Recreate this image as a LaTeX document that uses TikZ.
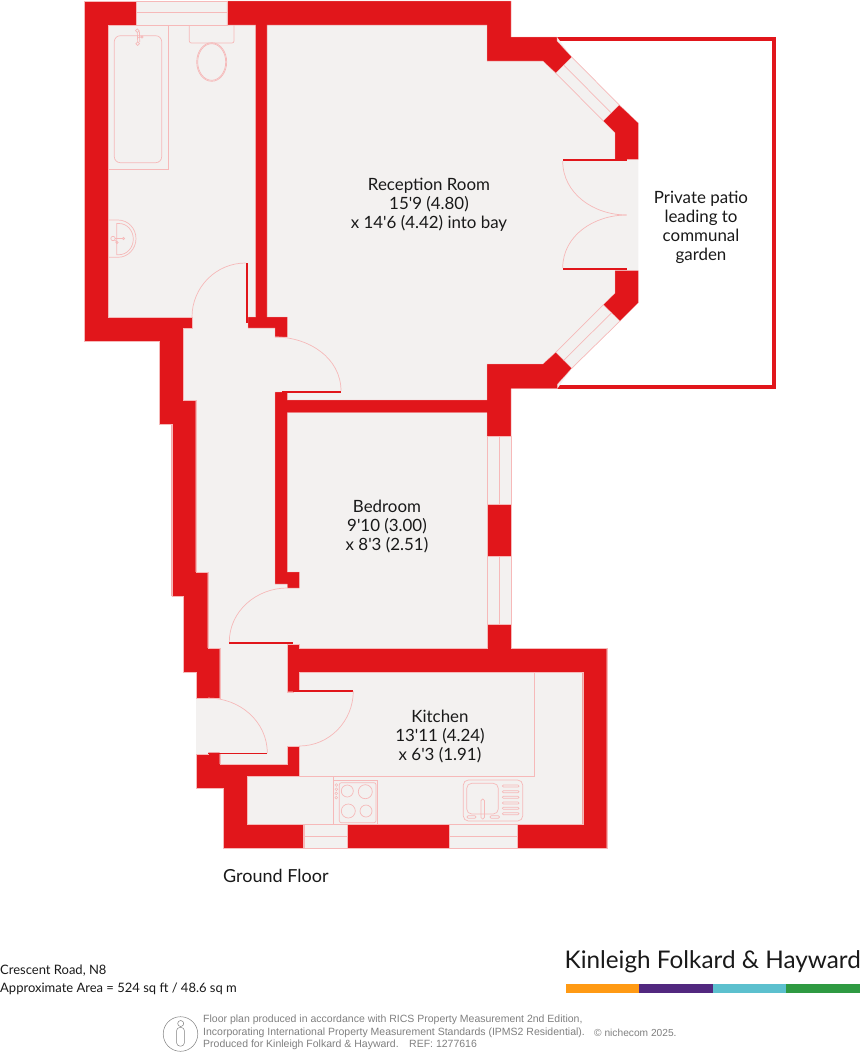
\documentclass[tikz,border=0pt]{standalone}
\usepackage{fontspec}
\setmainfont{Lato}
\newfontfamily\notefont{Liberation Sans}
\definecolor{wallred}{HTML}{E1161B}
\definecolor{floorgrey}{HTML}{F3F1F0}
\definecolor{fixpink}{HTML}{F6B9B9}
\definecolor{notegrey}{HTML}{7F7F7F}
\begin{document}
\begin{tikzpicture}[x=1pt,y=-1pt,
    floorplate/.style ={fill=floorgrey},
    wall/.style ={fill=wallred, draw=fixpink, line width=0.2pt},
    leaf/.style ={fill=wallred},
    fixture/.style ={draw=fixpink, line width=0.7pt},
    swing/.style ={draw=fixpink, line width=0.7pt},
    room/.style ={align=center, inner sep=0pt, text=black!90, font=\fontsize{16.9}{19.2}\selectfont},
    address/.style ={anchor=west, inner sep=0pt, text=black!90, font=\fontsize{13}{18}\selectfont},
    note/.style ={anchor=west, inner sep=0pt, text=notegrey, font=\notefont\fontsize{10.5}{12}\selectfont}]
   \useasboundingbox (0,0) rectangle (861,1052);
   \draw[wallred, line width=4pt] (557,39.3) -- (774,39.3) -- (774,386.5) -- (557,386.5);
   \fill[floorplate] (84,1) -- (511,1) -- (511,37) -- (557,37) -- (571.7,57) -- (619.3,105) -- (638.3,123)
     -- (638.3,302.7) -- (620,321) -- (571.7,368.3) -- (557.3,388.7) -- (511,388.7) -- (511,648.3)
     -- (606.7,648.3) -- (606.7,848) -- (223.3,848) -- (223.3,788) -- (196,788) -- (196,672)
     -- (183.5,672) -- (183.5,596) -- (171.7,596) -- (171.7,424) -- (159.5,424) -- (159.5,341) -- (84,341) -- cycle;
   \draw[wall] (84,1) -- (136,1) -- (136,25) -- (108,25) -- (108,317) -- (192,317) -- (192,328) -- (183.5,328)
     -- (183.5,400) -- (195.7,400) -- (195.7,572) -- (207.7,572) -- (207.7,648) -- (219.7,648) -- (219.7,698)
     -- (196,698) -- (196,672) -- (183.5,672) -- (183.5,596) -- (171.7,596) -- (171.7,424) -- (159.5,424)
     -- (159.5,341) -- (84,341) -- cycle;
   \draw[wall] (227,1) -- (511,1) -- (511,37) -- (557,37) -- (557,41) -- (571.7,57) -- (555.7,73) -- (543,61)
     -- (487,61) -- (487,25) -- (267,25) -- (267,317) -- (287.3,317) -- (287.3,337) -- (275,337) -- (275,328)
     -- (248,328) -- (248,317) -- (255.7,317) -- (255.7,25) -- (227,25) -- cycle;
   \draw[wall] (603.3,121) -- (619.3,105) -- (638.3,123) -- (638.3,159.3) -- (615,159.3) -- (615,132.7) -- cycle;
   \draw[wall] (638.3,270.7) -- (638.3,302.7) -- (620,321) -- (603.3,304.7) -- (615,293.3) -- (615,270.7) -- cycle;
   \draw[wall] (487,364) -- (543,364) -- (555.7,352.3) -- (571.7,368.3) -- (557.3,384.3) -- (557.3,388.7) -- (511,388.7)
     -- (511,436.7) -- (487,436.7) -- (487,412.7) -- (287.3,412.7) -- (287.3,572) -- (299.3,572) -- (299.3,588)
     -- (287.3,588) -- (287.3,584) -- (275,584) -- (275,392) -- (287.3,392) -- (287.3,400) -- (487,400) -- cycle;
   \draw[wall] (487,504.3) rectangle (511,556);
   \draw[wall] (487,624.3) -- (511,624.3) -- (511,648.3) -- (606.7,648.3) -- (606.7,848) -- (517,848) -- (517,824)
     -- (582.7,824) -- (582.7,672.3) -- (299.3,672.3) -- (299.3,690.5) -- (293.3,690.5) -- (293.3,691.7)
     -- (287.3,691.7) -- (287.3,644) -- (299.3,644) -- (299.3,648.3) -- (487,648.3) -- cycle;
   \draw[wall] (347,824) rectangle (449,848);
   \draw[wall] (196,754) -- (208.3,754) -- (208.3,752.7) -- (219.7,752.7) -- (219.7,764) -- (287.3,764) -- (287.3,746)
     -- (299.3,746) -- (299.3,776) -- (247.3,776) -- (247.3,824) -- (303.6,824) -- (303.6,848) -- (223.3,848)
     -- (223.3,788) -- (196,788) -- cycle;
   % door leaves
   \fill[leaf] (245.7,263) rectangle (248,323);
   \fill[leaf] (281.7,390.5) rectangle (341,392.5);
   \fill[leaf] (229.3,641.7) rectangle (293.3,644);
   \fill[leaf] (293.3,690) rectangle (353.3,692);
   \fill[leaf] (208.3,752.5) rectangle (267.3,754.3);
   \fill[leaf] (562.7,159) rectangle (626.7,161.4);
   \fill[leaf] (562.7,268) rectangle (626.7,270.4);
   % door swings
   \draw[swing] (245.7,263) to [out=180,in=90] (192,317);
   \draw[swing] (275,337) to [out=0,in=90] (341,391);
   \draw[swing] (287.3,588) to [out=180,in=90] (229.3,642);
   \draw[swing] (208,698) to [out=0,in=90] (267.3,753);
   \draw[swing] (353.3,691) to [out=-90,in=0] (299.3,746);
   \draw[swing] (562.7,161) to [out=-90,in=180] (626.7,215);
   \draw[swing] (562.7,268) to [out=90,in=180] (626.7,215);
   % windows
   \draw[fixture] (136,1) rectangle (227,25) (136,12.7) -- (227,12.7);
   \draw[fixture] (303.6,824) rectangle (347,848) (303.6,836) -- (347,836);
   \draw[fixture] (449,824) rectangle (517,848) (449,836) -- (517,836);
   \foreach \ytop/\ybot in {436.7/504.3,556/624.3}
     \draw[fixture] (487,\ytop) rectangle (511,\ybot) (499,\ytop) -- (499,\ybot);
   \draw[fixture] (555.7,73) -- (603.3,121) (571.7,57) -- (619.3,105) (563.7,65) -- (611.3,113);
   \draw[fixture] (555.7,352.3) -- (603.3,304.7) (571.7,368.3) -- (620,321) (563.7,360.3) -- (611.6,312.8);
   % bathroom
   \draw[fixture] (108,169) -- (168,169) -- (168,25);
   \draw[fixture, rounded corners=6pt] (114.3,35.7) rectangle (161.7,162.7);
   \draw[fixture] (137.3,30.7) circle (1.8) (137.7,43.7) circle (1.8) (142,37) circle (1.2);
   \draw[fixture] (137.3,32.5) -- (137.7,41.9) (139.5,31.5) -- (139.7,42) (137.3,38) -- (141,37);
   \draw[fixture, rounded corners=2pt] (189.3,25) -- (189.3,43) -- (234,43) -- (234,25);
   \draw[fixture] (211.7,62) ellipse [x radius=15, y radius=19.3];
   \draw[fixture] (211.7,62) ellipse [x radius=14, y radius=18.3];
   \draw[fixture] (108,220) -- (118,220) to [out=0,in=90] (136,238.6) to [out=-90,in=0] (118,257.3) -- (108,257.3);
   \draw[fixture] (116.7,223.5) -- (119,223.5) to [out=0,in=90] (133.3,239) to [out=-90,in=0] (119,254.7) -- (116.7,254.7) -- cycle;
   \draw[fixture] (113,238.5) circle (2.2) (123.5,238.5) circle (1.2) (117,242.5) circle (1.2);
   \draw[fixture] (115,238.5) -- (122.5,238.5) (114.5,240) -- (116.5,241.5);
   % kitchen
   \draw[fixture] (299.3,776.3) -- (534.3,776.3) -- (534.3,672.3);
   \draw[fixture] (333.3,776.3) -- (333.3,824) (333.3,780) -- (377.7,780) -- (377.7,824);
   \draw[fixture, rounded corners=2pt] (339.3,782.7) rectangle (376,822.7);
   \foreach \cx/\cy/\cr in {347.3/791/6,365.3/791.7/7,348.3/811/7,366/811/6}
     \draw[fixture] (\cx,\cy) circle (\cr);
   \foreach \ky in {785,789.2,793.4,797.6}
     \draw[fixture, line width=0.5pt] (336.3,\ky) circle (1.4);
   \draw[fixture, rounded corners=5pt] (463.3,780) rectangle (522.7,821);
   \draw[fixture, rounded corners=5pt] (466.7,783.3) rectangle (498.3,814);
   \foreach \dy in {786,791.7,797.3,803,808.3,813.7}
     \draw[fixture, rounded corners=1pt] (502.3,\dy-1) rectangle (519,\dy+1);
   \draw[fixture, rounded corners=1.5pt] (481,799) rectangle (484.4,819);
   \draw[fixture, rounded corners=1pt] (467,815.8) rectangle (476,818.2);
   \draw[fixture, rounded corners=1pt] (490,815.8) rectangle (499.5,818.2);
   % labels
   \node[room] (reception) at (429,204.5) {Reception Room\\15\textquotesingle 9 (4.80)\\x 14\textquotesingle 6 (4.42) into bay};
   \node[room] (patio) at (701,227.5) {Private patio\\leading to\\communal\\garden};
   \node[room] (bedroom) at (387,526.5) {Bedroom\\9\textquotesingle 10 (3.00)\\x 8\textquotesingle 3 (2.51)};
   \node[room] (kitchen) at (440,736.5) {Kitchen\\13\textquotesingle 11 (4.24)\\x 6\textquotesingle 3 (1.91)};
   \node[address, font=\fontsize{18}{19}\selectfont] (floorname) at (223,876) {Ground Floor};
   \node[address] (street) at (0,971) {Crescent Road, N8};
   \node[address] (area) at (0,989) {Approximate Area = 524 sq ft / 48.6 sq m};
   \node[anchor=east, inner sep=0pt, text=black!90, font=\fontsize{24.3}{30}\selectfont] (agent) at (861,962) {Kinleigh Folkard \& Hayward};
   \foreach \xa/\xb/\barcol in {566/639.3/FF9A14,639.3/712.7/52287F,712.7/786/5CC0CE,786/860/2F9A42}{
     \definecolor{barfill}{HTML}{\barcol}
     \fill[barfill] (\xa,984.3) rectangle (\xb,993.3);
   }
   % footer
   \draw[notegrey, line width=0.5pt] (180.5,1034) circle (17.3);
   \draw[notegrey, line width=0.5pt] (180.7,1023.5) circle (3);
   \draw[notegrey, line width=0.5pt, rounded corners=3pt] (176.7,1027.5) rectangle (184.3,1046);
   \node[note] (noteone) at (203,1020) {Floor plan produced in accordance with RICS Property Measurement 2nd Edition,};
   \node[note] (notetwo) at (203,1032.7) {Incorporating International Property Measurement Standards (IPMS2 Residential).};
   \node[note] (notethree) at (203,1045.2) {Produced for Kinleigh Folkard \& Hayward.\hspace{1em}REF: 1277616};
   \node[note, font=\notefont\fontsize{10.2}{12}\selectfont] (copyright) at (594,1032.7) {© nichecom 2025.};
 \end{tikzpicture}
\end{document}
